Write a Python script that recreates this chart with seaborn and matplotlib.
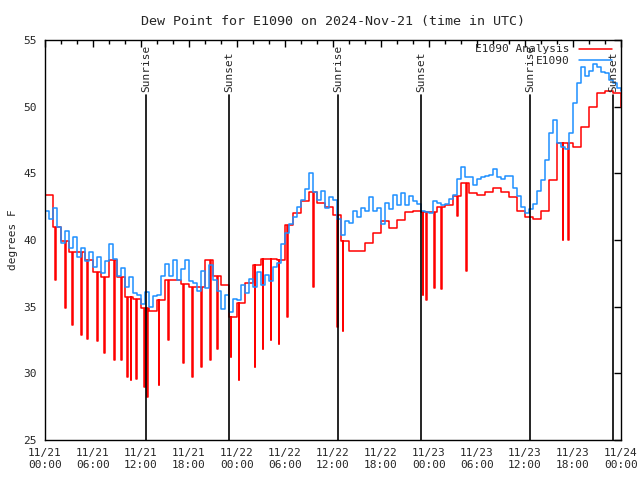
import numpy as np
import pandas as pd
import matplotlib
matplotlib.use('Agg')
import matplotlib.pyplot as plt
import seaborn as sns

# hours since 2024-11-21 00:00 UTC
obs_hours = np.arange(0, 72.5, 0.5)
obs_dewpt = [
    42.2, 41.6, 42.4, 41.0, 39.8, 40.7, 39.4, 40.2, 38.7, 39.4, 38.4, 39.1,
    38.0, 38.7, 37.5, 38.4, 39.7, 38.6, 37.3, 37.9, 36.5, 37.2, 36.0, 35.9,
    35.2, 36.1, 35.0, 35.8, 35.9, 37.3, 38.2, 37.3, 38.5, 37.0, 37.8, 38.5,
    36.9, 36.8, 36.2, 37.7, 36.4, 38.1, 37.0, 36.2, 34.8, 35.9, 34.6, 35.6,
    35.5, 36.6, 36.0, 37.1, 36.5, 37.6, 36.6, 37.4, 36.9, 38.0, 38.3, 39.7,
    40.5, 41.2, 41.7, 42.5, 43.0, 43.8, 45.0, 43.6, 43.0, 43.7, 42.4, 43.2,
    43.0, 41.6, 40.4, 41.4, 41.3, 42.2, 41.7, 42.4, 42.2, 43.2, 42.2, 42.4,
    41.2, 42.8, 42.3, 43.4, 42.6, 43.5, 42.6, 43.3, 42.9, 42.7, 42.2, 42.1,
    42.0, 42.9, 42.8, 42.6, 42.7, 43.1, 43.4, 44.6, 45.5, 44.7, 44.7, 44.1,
    44.6, 44.7, 44.8, 44.9, 45.3, 44.7, 44.6, 44.8, 44.8, 43.9, 43.3, 42.5,
    42.0, 42.3, 42.7, 43.7, 44.5, 46.0, 48.0, 49.0, 47.3, 47.0, 46.8, 48.0,
    50.3, 51.8, 53.0, 52.3, 52.7, 53.2, 53.0, 52.6, 52.5, 52.0, 51.8, 51.4,
    51.2,
]

ana_hours = np.arange(0, 73)
ana_dewpt = [
    43.4, 41.0, 39.9, 39.1, 39.1, 38.5, 37.6, 37.2, 38.5, 37.2, 35.7, 35.6,
    34.9, 34.7, 35.5, 37.0, 37.0, 36.7, 36.5, 36.5, 38.5, 37.3, 36.6, 34.2,
    35.3, 36.8, 38.1, 38.6, 38.6, 38.5, 41.1, 42.0, 42.9, 43.6, 42.8, 42.5,
    41.9, 39.9, 39.2, 39.2, 39.8, 40.5, 41.4, 40.9, 41.5, 42.1, 42.2, 42.1,
    42.1, 42.5, 42.6, 43.3, 44.3, 43.5, 43.4, 43.6, 43.9, 43.6, 43.2, 42.2,
    41.7, 41.6, 42.2, 44.5, 47.3, 47.3, 47.0, 48.5, 50.0, 51.0, 51.2, 51.0,
    50.0,
]
# short drop-outs in the analysis series
spike_hours = [1.3, 2.5, 3.4, 4.5, 5.3, 6.5, 7.4, 8.6, 9.5, 10.3, 10.7, 11.4,
               12.4, 12.8, 14.2, 15.4, 17.3, 18.4, 19.5, 20.6, 21.5, 23.2,
               24.2, 26.2, 27.2, 28.2, 29.2, 30.3, 33.5, 36.5, 37.2, 47.2,
               47.6, 48.6, 49.5, 51.5, 52.6, 64.7, 65.4]
spike_dewpt = [37.0, 34.9, 33.6, 32.9, 32.6, 32.4, 31.5, 31.0, 31.0, 29.7,
               29.5, 29.6, 29.0, 28.2, 29.1, 32.5, 30.8, 29.7, 30.5, 31.0,
               31.8, 31.2, 29.5, 30.5, 31.8, 32.5, 32.2, 34.2, 36.5, 33.5,
               33.2, 35.9, 35.5, 36.4, 36.3, 41.8, 37.7, 40.0, 40.0]

sunrise = [12.6, 36.6, 60.6]
sunset = [23.0, 47.0, 71.0]

tick_labels = ['11/21\n00:00', '11/21\n06:00', '11/21\n12:00', '11/21\n18:00',
               '11/22\n00:00', '11/22\n06:00', '11/22\n12:00', '11/22\n18:00',
               '11/23\n00:00', '11/23\n06:00', '11/23\n12:00', '11/23\n18:00',
               '11/24\n00:00']

# build the analysis series with the drop-outs inserted
rows = list(zip(ana_hours, ana_dewpt))
for t, v in zip(spike_hours, spike_dewpt):
    base = ana_dewpt[int(t)]
    rows.append((t, v))
    rows.append((t + 0.1, base))
ana = pd.DataFrame(rows, columns=['hour', 'dewpt']).sort_values('hour')
obs = pd.DataFrame({'hour': obs_hours, 'dewpt': obs_dewpt})

sns.set_style('white')
plt.rcParams['font.family'] = ['DejaVu Sans Mono']
plt.rcParams['font.size'] = 8

fig = plt.figure(figsize=(6.4, 4.8), dpi=100)
ax = fig.add_axes([45/640, 40/480, 576/640, 400/480])

sns.lineplot(data=ana, x='hour', y='dewpt', color='#ff0000', lw=1.1,
             estimator=None, sort=False, drawstyle='steps-post',
             label='E1090 Analysis', ax=ax)
sns.lineplot(data=obs, x='hour', y='dewpt', color='#1e90ff', lw=1.1,
             estimator=None, sort=False, drawstyle='steps-post',
             label='E1090', ax=ax)

for t in sunrise:
    ax.plot([t, t], [25, 50.9], color='black', lw=1.2)
    ax.text(t, 51.1, 'Sunrise', rotation=90, ha='center', va='bottom')
for t in sunset:
    ax.plot([t, t], [25, 50.9], color='black', lw=1.2)
    ax.text(t, 51.1, 'Sunset', rotation=90, ha='center', va='bottom')

ax.set_xlim(0, 72)
ax.set_ylim(25, 55)
ax.set_xticks(np.arange(0, 73, 6))
ax.set_xticks(np.arange(0, 73, 2), minor=True)
ax.set_xticklabels(tick_labels)
ax.set_yticks(np.arange(25, 56, 5))
ax.tick_params(which='both', direction='in', top=True, right=True,
               color='black', width=1)
ax.tick_params(which='major', length=5, pad=6)
ax.tick_params(which='minor', length=3)
for s in ax.spines.values():
    s.set_color('black')
    s.set_linewidth(1)

ax.set_xlabel('')
ax.set_ylabel('degrees F', labelpad=4)
ax.set_title('Dew Point for E1090 on 2024-Nov-21 (time in UTC)', pad=11)
ax.legend(loc='upper right', frameon=False, markerfirst=False,
          handlelength=3.0, borderaxespad=0.0, labelspacing=0.1,
          bbox_to_anchor=(0.992, 1.0))

fig.savefig('out.png', dpi=100)
